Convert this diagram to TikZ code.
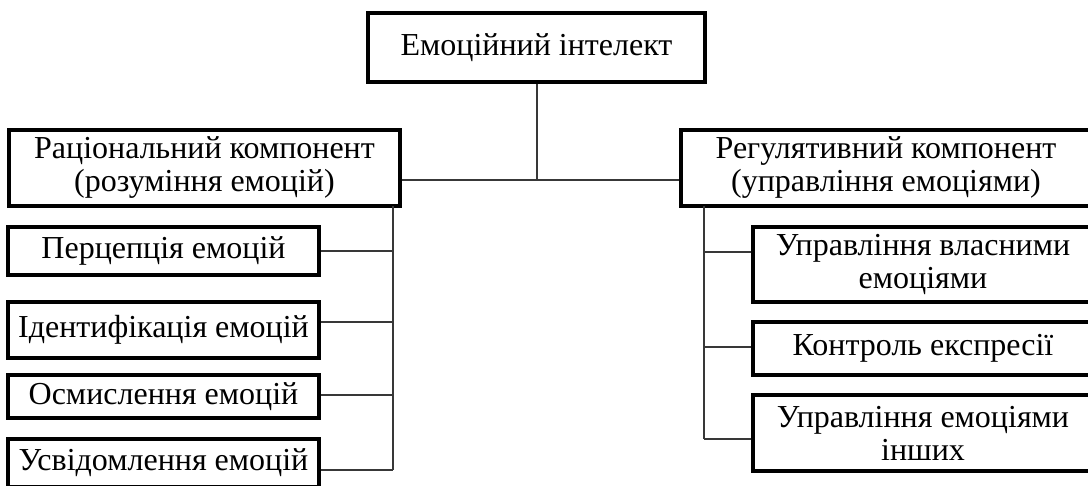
\documentclass[tikz,border=0pt]{standalone}
\usepackage{fontspec}
\setmainfont{Liberation Serif}
\begin{document}
\begin{tikzpicture}[x=1pt,y=-1pt,
  box/.style={draw=black, line width=3.2pt, inner sep=0pt, align=center, font=\fontsize{32}{33}\selectfont},
  conn/.style={draw=black!78, line width=2pt}]
\useasboundingbox (0,0) rectangle (1088,486);
\clip (0,0) rectangle (1088,486);
\fill[white] (0,0) rectangle (1088,486);
% boxes
\node[box, minimum width=337, minimum height=69] (top) at (536.5,47.5) {Емоційний інтелект};
\node[box, minimum width=391, minimum height=76] (lmain) at (204.5,168) {Раціональний компонент\\(розуміння емоцій)};
\node[box, minimum width=410, minimum height=76] (rmain) at (886,168) {Регулятивний компонент\\(управління емоціями)};
\node[box, minimum width=311, minimum height=48] (c1) at (163.5,251) {Перцепція емоцій};
\node[box, minimum width=311, minimum height=56] (c2) at (163.5,330) {Ідентифікація емоцій};
\node[box, minimum width=311, minimum height=43] (c3) at (163.5,396.5) {Осмислення емоцій};
\node[box, minimum width=311, minimum height=48] (c4) at (163.5,463) {Усвідомлення емоцій};
\node[box, minimum width=340, minimum height=75] (r1) at (923,264.5) {Управління власними\\емоціями};
\node[box, minimum width=340, minimum height=53] (r2) at (923,348.5) {Контроль експресії};
\node[box, minimum width=340, minimum height=76] (r3) at (923,433) {Управління емоціями\\інших};
% coordinates
\coordinate (J) at (537,180);
\coordinate (LT) at (393,206);
\coordinate (RT) at (704,206);
\coordinate (s1) at (c1.east);
\coordinate (s2) at ([yshift=8pt]c2.east);
\coordinate (s3) at ([yshift=1.5pt]c3.east);
\coordinate (s4) at ([yshift=-7pt]c4.east);
\coordinate (t1) at ([yshift=12.5pt]r1.west);
\coordinate (t2) at ([yshift=1.5pt]r2.west);
\coordinate (t3) at ([yshift=-6pt]r3.west);
% connectors
\draw[conn] (top.south) -- (top.south |- J);
\draw[conn] (lmain.east |- J) -- (rmain.west |- J);
\draw[conn] (LT) -- (LT |- s4);
\draw[conn] (s1) -- (s1 -| LT);
\draw[conn] (s2) -- (s2 -| LT);
\draw[conn] (s3) -- (s3 -| LT);
\draw[conn] (s4) -- (s4 -| LT);
\draw[conn] (RT) -- (RT |- t3);
\draw[conn] (t1) -- (t1 -| RT);
\draw[conn] (t2) -- (t2 -| RT);
\draw[conn] (t3) -- (t3 -| RT);
\end{tikzpicture}
\end{document}
